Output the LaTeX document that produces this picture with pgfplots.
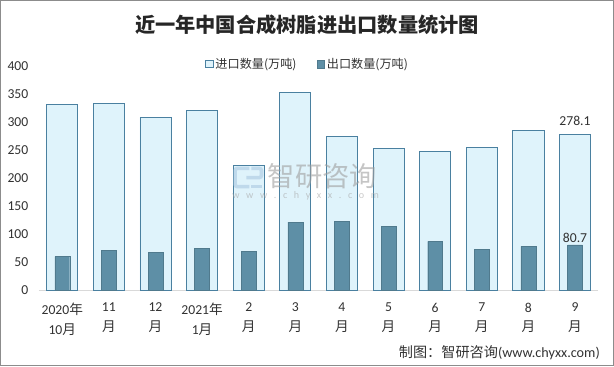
\documentclass[border=0pt]{standalone}
\usepackage{pgfplots}
\pgfplotsset{compat=1.18}
\usepackage{fontspec}
\setmainfont{Carlito}
\newfontfamily\cjk{Noto Sans CJK SC}
\definecolor{impfill}{RGB}{223,243,251}
\definecolor{impdraw}{RGB}{74,128,160}
\definecolor{expfill}{RGB}{94,143,166}
\definecolor{txt}{RGB}{50,50,50}
\definecolor{framec}{RGB}{140,140,140}
\definecolor{logoc}{RGB}{170,200,225}
\begin{document}
\begin{tikzpicture}[x=1pt,y=1pt]
\draw[framec, line width=1pt] (4,-4) rectangle (610,-365);
\node[font=\cjk\bfseries\fontsize{20}{24}\selectfont, text=black!85] at (307,-28) {近一年中国合成树脂进出口数量统计图};
\begin{axis}[
  at={(42pt,-290.3pt)}, anchor=south west,
  scale only axis, width=553pt, height=221.3pt,
  xmin=-0.5, xmax=11.5, ymin=0, ymax=400,
  ytick={0,50,...,400},
  xtick={0,...,11},
  xticklabels={{2020{\cjk 年}\\10{\cjk 月}},{11\\{\cjk 月}},{12\\{\cjk 月}},{2021{\cjk 年}\\1{\cjk 月}},{2\\{\cjk 月}},{3\\{\cjk 月}},{4\\{\cjk 月}},{5\\{\cjk 月}},{6\\{\cjk 月}},{7\\{\cjk 月}},{8\\{\cjk 月}},{9\\{\cjk 月}}},
  axis x line*=bottom, axis y line*=left,
  x axis line style={draw=black!15, line width=1pt},
  y axis line style={draw=none},
  major tick length=0pt,
  /pgf/number format/assume math mode=true,
  tick label style={text=txt, font=\fontsize{13.5}{19.5}\selectfont},
  xticklabel style={align=center, yshift=-9pt},
  yticklabel style={xshift=-7pt},
  legend style={draw=none, fill=none, at={(0.48,1.01)}, anchor=center, legend columns=2,
    font=\cjk\fontsize{12}{14}\selectfont, text=txt,
    /tikz/every even column/.append style={column sep=18pt}},
  legend image code/.code={\draw[#1] (0pt,-3.8pt) rectangle (7.6pt,3.8pt);},
]
\addplot[ybar, bar width=0.666, bar shift=0pt, fill=impfill, draw=impdraw, line width=0.8pt]
  coordinates {(0,332.5) (1,334) (2,309) (3,321.6) (4,222) (5,354) (6,274.7) (7,253) (8,247.6) (9,254.8) (10,285.5) (11,278.1)};
\addlegendentry{进口数量(万吨)}
\addplot[ybar, bar width=0.32, bar shift=0pt, fill=expfill, draw=expfill!85!black, line width=0.4pt]
  coordinates {(0,60) (1,71) (2,67.3) (3,74.5) (4,69) (5,121.5) (6,123.3) (7,114.3) (8,87) (9,72.7) (10,78) (11,80.7)};
\addlegendentry{出口数量(万吨)}
\node[anchor=south, text=txt, font=\fontsize{13.5}{16}\selectfont, yshift=5pt] at (axis cs:11,278.1) {278.1};
\node[anchor=south, text=txt, font=\fontsize{13.5}{16}\selectfont, yshift=-1pt] at (axis cs:11,80.7) {80.7};
\end{axis}
% watermark
\begin{scope}[opacity=0.6]
\draw[logoc, line width=3.5pt, rounded corners=2pt] (250,-170) -- (236,-170) -- (236,-188) -- (250,-188);
\draw[logoc, line width=3.5pt, rounded corners=2pt] (247,-179) -- (262,-179) -- (262,-170) -- (252,-170);
\draw[logoc, line width=3.5pt, rounded corners=2pt] (252,-188) -- (263,-188);
\node[anchor=west, text=gray!75, font=\cjk\fontsize{27}{29}\selectfont, inner sep=0pt] at (268,-178) {智研咨询};
\node[anchor=west, text=gray!70, font=\fontsize{10}{11}\selectfont, inner sep=0pt] at (233,-197.5) {\makebox[145pt][s]{w\hfill w\hfill w\hfill .\hfill c\hfill h\hfill y\hfill x\hfill x\hfill .\hfill c\hfill o\hfill m}};
\end{scope}
\node[anchor=east, text=txt, font=\fontsize{14}{16}\selectfont] at (600,-352) {{\cjk 制图：智研咨询}(www.chyxx.com)};
\end{tikzpicture}
\end{document}
